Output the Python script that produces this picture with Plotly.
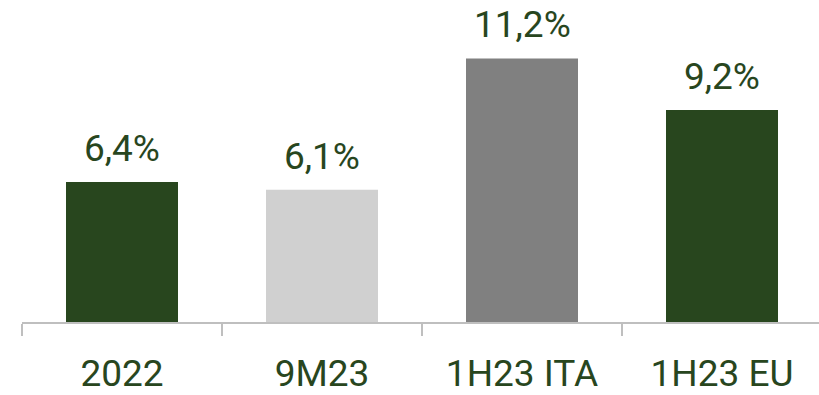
import plotly.graph_objects as go

categories = ["2022", "9M23", "1H23 ITA", "1H23 EU"]
values = [6.4, 6.1, 11.2, 9.2]
bar_colors = ["#28461e", "#d0d0d0", "#808080", "#28461e"]

text_color = "#28461e"
font_family = "Roboto, 'Open Sans', sans-serif"

labels = [f"{v:.1f}".replace(".", ",") + "%" for v in values]

fig = go.Figure(
    go.Bar(
        x=categories,
        y=values,
        marker=dict(color=bar_colors, line=dict(width=0)),
        width=0.56,
        hoverinfo="skip",
    )
)

# value labels above each bar (category index used as x position)
for i, (v, lab) in enumerate(zip(values, labels)):
    fig.add_annotation(
        x=i, y=v, text=lab, showarrow=False,
        xanchor="center", yanchor="bottom", yshift=10,
        font=dict(family=font_family, size=37, color=text_color),
    )

fig.update_layout(
    width=819, height=395,
    margin=dict(l=22, r=0, t=0, b=71),
    paper_bgcolor="white", plot_bgcolor="white",
    showlegend=False,
    xaxis=dict(
        type="category",
        range=[-0.5, 3.485],
        tickson="boundaries",
        ticks="outside", ticklen=12, tickwidth=1.5, tickcolor="#bfbfbf",
        showline=True, linecolor="#bfbfbf", linewidth=2,
        showgrid=False, zeroline=False,
        ticklabelstandoff=18,
        tickfont=dict(family=font_family, size=37, color=text_color),
    ),
    yaxis=dict(
        range=[0.96, 13.47],
        visible=False, showgrid=False, zeroline=False,
    ),
)

fig.write_html("out.html")
